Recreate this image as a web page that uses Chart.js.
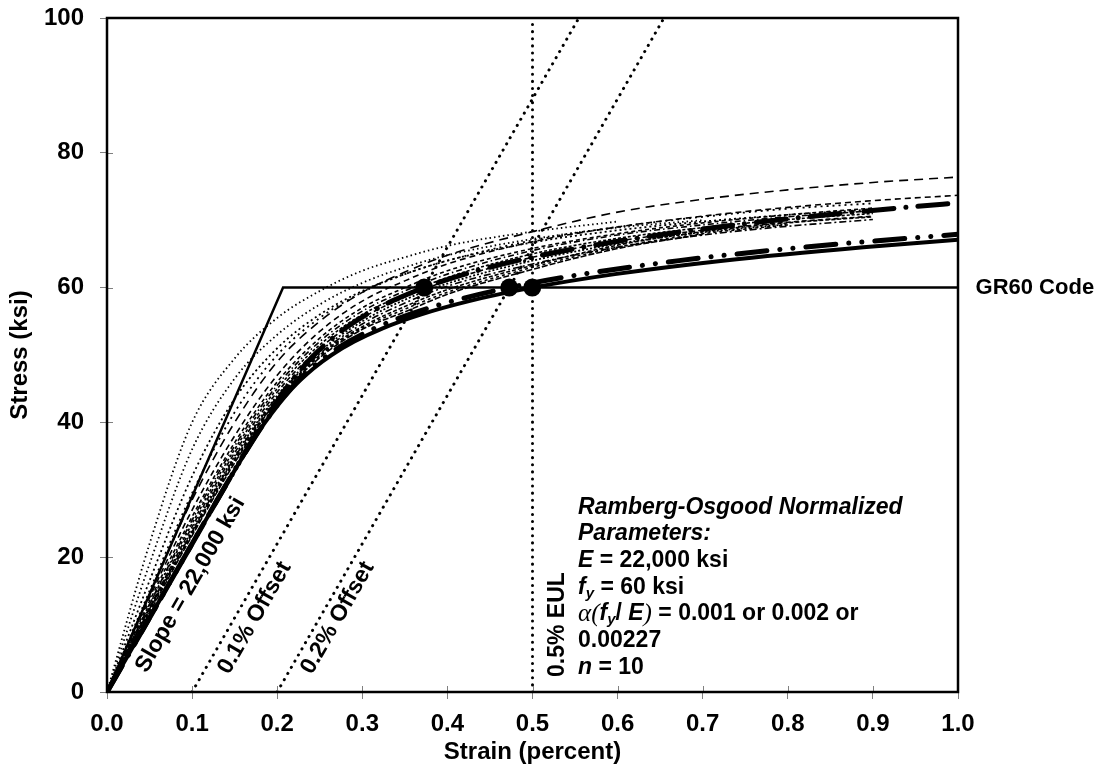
<!DOCTYPE html>
<html>
<head>
<meta charset="utf-8">
<script src="https://cdn.jsdelivr.net/npm/chart.js@4.4.0/dist/chart.umd.min.js"></script>
<style>
  html, body { margin: 0; padding: 0; background: #fff; }
  canvas { display: block; }
</style>
</head>
<body>
<canvas id="stressChart" width="1103" height="773"></canvas>
<script>
// ---- data (strain in percent, stress in ksi) ----

// GR60 code bilinear line
const codeStrain = [0, 0.2069, 1.0];
const codeStress = [0, 60, 60];

// Ramberg-Osgood normalized curves, alpha(fy/E) = 0.00227, 0.002, 0.001
const ro227Stress = [0, 10, 20, 30, 35, 40, 45, 48, 50, 52, 54, 56, 58, 60, 62, 64, 66, 67.1];
const ro227Strain = [0, 0.0455, 0.0909, 0.1366, 0.1601, 0.1858, 0.2173, 0.2426, 0.2639, 0.2906, 0.3246, 0.3684, 0.4254, 0.4997, 0.5969, 0.7237, 0.8888, 1.0];
const ro200Stress = [0, 10, 20, 30, 35, 40, 45, 48, 50, 52, 54, 56, 58, 60, 62, 64, 66, 67.92];
const ro200Strain = [0, 0.0455, 0.0909, 0.1366, 0.1600, 0.1853, 0.2158, 0.2397, 0.2596, 0.2842, 0.3152, 0.3549, 0.4061, 0.4727, 0.5594, 0.6722, 0.8187, 1.0];
const ro100Stress = [0, 10, 20, 30, 35, 40, 45, 48, 50, 52, 54, 56, 58, 60, 62, 64, 66, 68, 70, 72, 72.57];
const ro100Strain = [0, 0.0455, 0.0909, 0.1365, 0.1596, 0.1836, 0.2102, 0.2289, 0.2434, 0.2603, 0.2803, 0.3047, 0.3349, 0.3727, 0.4206, 0.4816, 0.5594, 0.6587, 0.7853, 0.9464, 1.0];

// yield points (60 ksi)
const yieldStrain = [0.3727, 0.4727, 0.4997];
const yieldStress = [60, 60, 60];

// offset / EUL reference lines
const off1Strain = [0.1, 0.5545];
const off2Strain = [0.2, 0.6545];
const eulStrain = [0.5, 0.5];
const refStress = [0, 100];

// measured test curves, read at these strains
const strainGrid = [0, 0.05, 0.1, 0.15, 0.2, 0.25, 0.3, 0.35, 0.4, 0.5, 0.6, 0.7, 0.8, 0.9, 1.0];
const test01 = [0, 22, 40, 49.5, 55.5, 59.5, 62.5, 64.5, 66.2, 68.3, 69.8];
const test02 = [0, 19, 36, 46.5, 53, 57.5, 60.7, 63, 64.8, 67.2, 68.9, 70];
const test03 = [0, 16.5, 32, 43.5, 51, 56, 59.5, 62, 64, 66.7, 68.5, 69.8, 70.8, 71.6];
const test04 = [0, 14.5, 28.5, 40, 49, 55, 59.3, 62.3, 64.8, 68.3, 71.2, 73.1, 74.5, 75.6, 76.4];
const test05 = [0, 14, 27, 38, 47, 53.5, 58, 61, 63.5, 66.8, 69, 70.6, 71.9, 72.9, 73.7];
const test06 = [0, 13.5, 26, 37, 46, 52.5, 57, 60, 62.5, 65.8, 68, 69.6, 70.8, 71.8];
const test07 = [0, 13, 25.5, 36.5, 45.5, 52, 56.5, 59.5, 62, 65.5, 67.8, 69.3, 70.5, 71.4];
const test08 = [0, 13, 25, 36, 45, 51.5, 56, 59, 61.5, 65, 67.3, 68.9, 70.1, 71];
const test09 = [0, 12.5, 24.5, 35.5, 44.5, 51, 55.5, 58.6, 61, 64.5, 66.9, 68.5, 69.7, 70.6];
const test10 = [0, 12.5, 24, 35, 44, 50.5, 55, 58.2, 60.6, 64, 66.5, 68.2, 69.4];
const test11 = [0, 12.3, 23.8, 34.8, 43.8, 50.2, 54.6, 57.7, 60.2, 63.5, 66, 67.8, 69.1, 70.1];
const test12 = [0, 12.2, 23.6, 34.5, 43.5, 50, 54.2, 57.2, 59.7, 63.3, 66.3, 68.3, 69.6, 70.5];
const test13 = [0, 12, 23.4, 34.2, 43.4, 49.8, 54, 56.8, 59.3, 63, 66, 68, 69.3];
const test14 = [0, 11.8, 23.2, 34, 43.3, 49.6, 53.8, 56.4, 59, 62.7, 65.8, 67.9];
const test15 = [0, 15, 29.5, 41.5, 50, 55.5, 59.3, 62, 64, 67, 69, 70.5, 71.7, 72.5];

const testSeries = [test01, test02, test03, test04, test05, test06, test07, test08,
  test09, test10, test11, test12, test13, test14, test15];
const testDash = [[1.5, 3], [1.5, 3], [2, 3], [9, 6], [6, 4], [4, 3], [6, 3, 1.5, 3], [3, 2],
  [5, 3], [2, 2], [7, 3, 2, 3], [4, 2], [3, 3], [6, 2], [2, 4]];

// ---- helpers ----
function pts(xs, ys) {
  return xs.map((v, i) => ({ x: v, y: ys[i] }));
}

const FONT = '"Liberation Sans", Arial, sans-serif';

const datasets = [];

datasets.push({
  data: pts(yieldStrain, yieldStress), showLine: false,
  pointRadius: 9, pointBackgroundColor: '#000', pointBorderWidth: 0, order: 0
});
datasets.push({
  data: pts(ro227Strain, ro227Stress), borderColor: '#000', borderWidth: 4,
  cubicInterpolationMode: 'monotone', order: 1
});
datasets.push({
  data: pts(ro200Strain, ro200Stress), borderColor: '#000', borderWidth: 5,
  borderDash: [30, 13, 0.1, 13, 0.1, 13], borderCapStyle: 'round',
  cubicInterpolationMode: 'monotone', order: 2
});
datasets.push({
  data: pts(ro100Strain, ro100Stress), borderColor: '#000', borderWidth: 5,
  borderDash: [30, 12, 0.1, 12], borderCapStyle: 'round',
  cubicInterpolationMode: 'monotone', order: 3
});
datasets.push({
  data: pts(codeStrain, codeStress), borderColor: '#000', borderWidth: 2.5, tension: 0, order: 4
});
[off1Strain, off2Strain, eulStrain].forEach(xs => {
  datasets.push({
    data: pts(xs, refStress), borderColor: '#000', borderWidth: 3,
    borderDash: [0.1, 7], borderCapStyle: 'round', tension: 0, order: 5
  });
});
testSeries.forEach((ys, i) => {
  const dotted = testDash[i][0] < 2.5 && testDash[i].length === 2;
  datasets.push({
    data: pts(strainGrid.slice(0, ys.length), ys), borderColor: '#000',
    borderWidth: dotted ? 1.8 : 1.6,
    borderDash: testDash[i], cubicInterpolationMode: 'monotone', order: 6 + i
  });
});

function drawRuns(ctx, parts, x, y) {
  let cx = x;
  parts.forEach(([t, f, dy]) => {
    ctx.font = f;
    ctx.fillText(t, cx, y + (dy || 0));
    cx += ctx.measureText(t).width;
  });
}

function rotText(ctx, text, x, y, ang) {
  ctx.save();
  ctx.translate(x, y);
  ctx.rotate(ang);
  ctx.textAlign = 'center';
  ctx.textBaseline = 'middle';
  ctx.fillText(text, 0, 0);
  ctx.restore();
}

const annotate = {
  id: 'annotate',
  beforeDraw(chart) {
    const ctx = chart.ctx;
    ctx.save();
    ctx.fillStyle = '#fff';
    ctx.fillRect(0, 0, chart.width, chart.height);
    ctx.restore();
  },
  afterDraw(chart) {
    const { ctx, chartArea: a, scales: { x, y } } = chart;
    ctx.save();
    // inner halves of tick marks
    ctx.strokeStyle = '#808080';
    ctx.lineWidth = 1;
    x.ticks.forEach(t => {
      const px = Math.round(x.getPixelForValue(t.value)) + 0.5;
      ctx.beginPath(); ctx.moveTo(px, a.bottom); ctx.lineTo(px, a.bottom - 6); ctx.stroke();
    });
    y.ticks.forEach(t => {
      const py = Math.round(y.getPixelForValue(t.value)) + 0.5;
      ctx.beginPath(); ctx.moveTo(a.left, py); ctx.lineTo(a.left + 6, py); ctx.stroke();
    });
    // frame
    ctx.strokeStyle = '#000';
    ctx.lineWidth = 2.5;
    ctx.strokeRect(a.left, a.top, a.right - a.left, a.bottom - a.top);

    ctx.fillStyle = '#000';
    const B = 'bold 23px ' + FONT;
    const BI = 'italic bold 23px ' + FONT;
    const SUB = 'italic bold 15px ' + FONT;
    const SER = 'italic 25px "Liberation Serif", "Times New Roman", serif';

    // slope of the 22,000 ksi line in pixels
    const ang = Math.atan2(y.getPixelForValue(60) - y.getPixelForValue(0),
      x.getPixelForValue(0.2727) - x.getPixelForValue(0));
    ctx.font = B;
    rotText(ctx, 'Slope = 22,000 ksi', x.getPixelForValue(0.098), y.getPixelForValue(15.9), ang);
    rotText(ctx, '0.1% Offset', x.getPixelForValue(0.1735), y.getPixelForValue(11), ang);
    rotText(ctx, '0.2% Offset', x.getPixelForValue(0.271), y.getPixelForValue(11), ang);
    rotText(ctx, '0.5% EUL', x.getPixelForValue(0.529), y.getPixelForValue(10), -Math.PI / 2);

    // GR60 label
    ctx.textAlign = 'left';
    ctx.textBaseline = 'middle';
    ctx.font = 'bold 22px ' + FONT;
    ctx.fillText('GR60 Code', x.getPixelForValue(1.0206), y.getPixelForValue(60));

    // parameter block
    const bx = x.getPixelForValue(0.5535);
    let by = y.getPixelForValue(27.4);
    const lh = 26.7;
    drawRuns(ctx, [['Ramberg-Osgood Normalized', BI]], bx, by); by += lh;
    drawRuns(ctx, [['Parameters:', BI]], bx, by); by += lh;
    drawRuns(ctx, [['E', BI], [' = 22,000 ksi', B]], bx, by); by += lh;
    drawRuns(ctx, [['f', BI], ['y', SUB, 6], [' = 60 ksi', B]], bx, by); by += lh;
    drawRuns(ctx, [['\u03b1(', SER], ['f', BI], ['y', SUB, 6], ['/ ', B], ['E', BI], [')', SER],
      [' = 0.001 or 0.002 or', B]], bx, by); by += lh;
    drawRuns(ctx, [['0.00227', B]], bx, by); by += lh;
    drawRuns(ctx, [['n', BI], [' = 10', B]], bx, by);
    ctx.restore();
  }
};

new Chart(document.getElementById('stressChart'), {
  type: 'scatter',
  data: { datasets: datasets },
  options: {
    responsive: false,
    animation: false,
    devicePixelRatio: 1,
    layout: { padding: { left: 0, right: 145, top: 18, bottom: 0 } },
    elements: { point: { radius: 0 }, line: { fill: false } },
    showLine: true,
    plugins: { legend: { display: false }, tooltip: { enabled: false } },
    scales: {
      x: {
        type: 'linear', min: 0, max: 1,
        afterFit: s => { s.height = 81; s.paddingLeft = 0; s.paddingRight = 0; },
        border: { display: false },
        grid: { drawOnChartArea: false, drawTicks: true, tickLength: 7, color: '#808080' },
        ticks: {
          stepSize: 0.1, padding: 11, color: '#000',
          font: { family: FONT, size: 24, weight: 'bold' },
          callback: v => v.toFixed(1)
        },
        title: {
          display: true, text: 'Strain (percent)', color: '#000',
          font: { family: FONT, size: 24, weight: 'bold' }, padding: { top: 0, bottom: 6 }
        }
      },
      y: {
        type: 'linear', min: 0, max: 100,
        afterFit: s => { s.width = 107; s.paddingTop = 0; s.paddingBottom = 0; },
        border: { display: false },
        grid: { drawOnChartArea: false, drawTicks: true, tickLength: 7, color: '#808080' },
        ticks: {
          stepSize: 20, padding: 16, color: '#000',
          font: { family: FONT, size: 24, weight: 'bold' }
        },
        title: {
          display: true, text: 'Stress (ksi)', color: '#000',
          font: { family: FONT, size: 24, weight: 'bold' }, padding: { top: 6, bottom: 0 }
        }
      }
    }
  },
  plugins: [annotate]
});
</script>
</body>
</html>
